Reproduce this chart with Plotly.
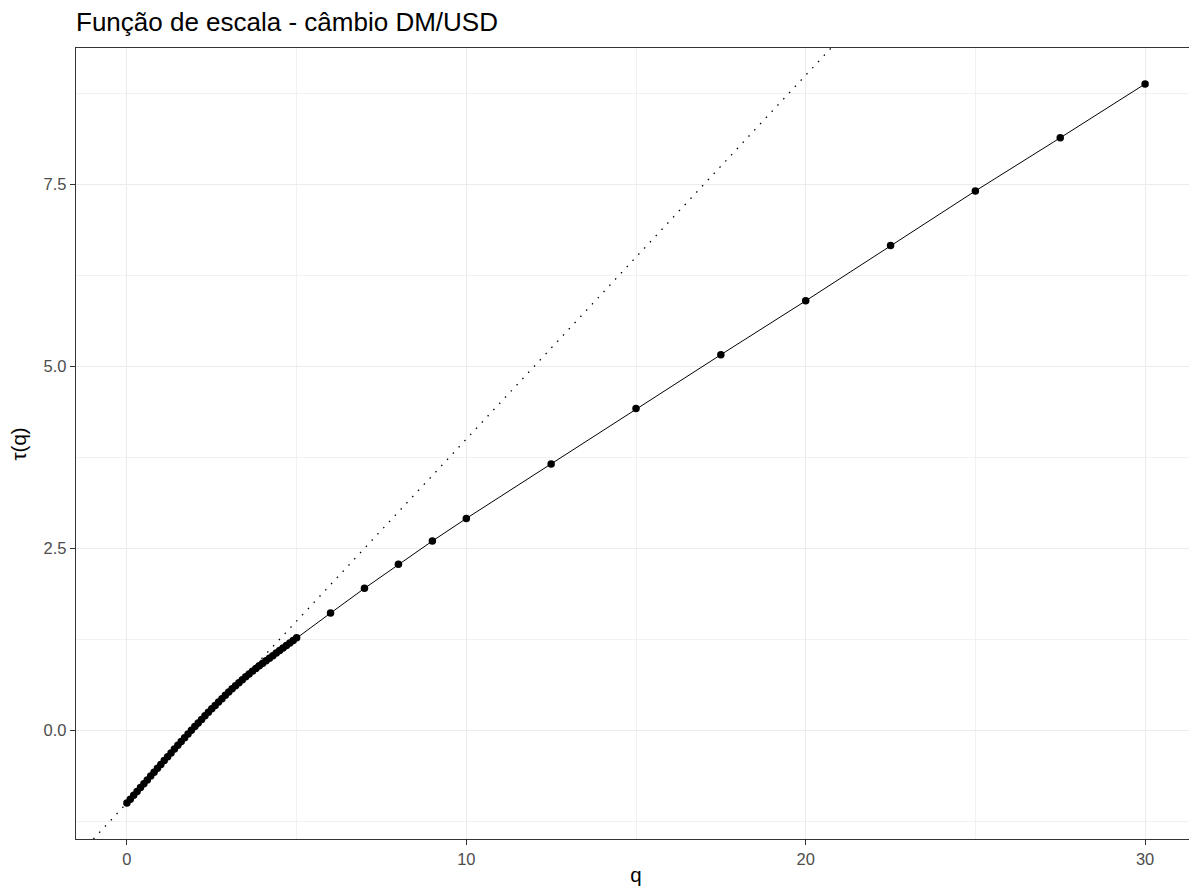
import plotly.graph_objects as go

# Data
q_values = [0.0, 0.1, 0.2, 0.3, 0.4, 0.5, 0.6, 0.7, 0.8, 0.9,
            1.0, 1.1, 1.2, 1.3, 1.4, 1.5, 1.6, 1.7, 1.8, 1.9,
            2.0, 2.1, 2.2, 2.3, 2.4, 2.5, 2.6, 2.7, 2.8, 2.9,
            3.0, 3.1, 3.2, 3.3, 3.4, 3.5, 3.6, 3.7, 3.8, 3.9,
            4.0, 4.1, 4.2, 4.3, 4.4, 4.5, 4.6, 4.7, 4.8, 4.9,
            5.0, 6, 7, 8, 9, 10, 12.5, 15, 17.5, 20, 22.5, 25, 27.5, 30]
tau_values = [-1.000, -0.947, -0.894, -0.841, -0.788, -0.735, -0.682, -0.629, -0.576, -0.523,
              -0.470, -0.417, -0.364, -0.311, -0.258, -0.206, -0.154, -0.102, -0.051, 0.000,
              0.050, 0.100, 0.149, 0.198, 0.246, 0.294, 0.341, 0.388, 0.434, 0.480,
              0.525, 0.569, 0.612, 0.654, 0.695, 0.735, 0.774, 0.812, 0.849, 0.885,
              0.920, 0.955, 0.990, 1.025, 1.060, 1.095, 1.130, 1.165, 1.200, 1.235,
              1.270, 1.61, 1.95, 2.28, 2.60, 2.91, 3.66, 4.42, 5.16, 5.90, 6.66, 7.41, 8.14, 8.88]

# reference line (monofractal): tau = slope*q + intercept
ref_intercept = -1.0
ref_slope = 0.5

x_ticks = [0, 10, 20, 30]
x_tick_labels = ["0", "10", "20", "30"]
y_ticks = [0, 2.5, 5.0, 7.5]
y_tick_labels = ["0.0", "2.5", "5.0", "7.5"]

title_text = "Função de escala - câmbio DM/USD"
x_title = "q"
y_title = "τ(q)"

# ggplot-like expansion (5%)
xmin, xmax = min(q_values), max(q_values)
ymin, ymax = min(tau_values), max(tau_values)
xpad = (xmax - xmin) * 0.05
ypad = (ymax - ymin) * 0.05
xr = [xmin - xpad, xmax + xpad]
yr = [ymin - ypad, ymax + ypad]

fig = go.Figure()

ref_x = [xr[0], xr[1]]
ref_y = [ref_intercept + ref_slope * v for v in ref_x]
fig.add_trace(go.Scatter(
    x=ref_x, y=ref_y, mode="lines",
    line=dict(color="black", width=1.3, dash="1.5px,7px"),
    hoverinfo="skip", showlegend=False))

fig.add_trace(go.Scatter(
    x=q_values, y=tau_values, mode="lines+markers",
    line=dict(color="black", width=1),
    marker=dict(color="black", size=7.5),
    showlegend=False))

font_family = "Liberation Sans, Arial, sans-serif"

axis_common = dict(
    showline=True, linecolor="#333333", linewidth=1.3, mirror=True,
    ticks="outside", ticklen=5, tickwidth=1.3, tickcolor="#333333",
    tickfont=dict(family=font_family, size=16.5, color="#4D4D4D"),
    showgrid=True, gridcolor="#EBEBEB", gridwidth=1.4,
    zeroline=False,
)

fig.update_xaxes(
    range=xr, tickvals=x_ticks, ticktext=x_tick_labels,
    minor=dict(dtick=5, tick0=0, showgrid=True, gridcolor="#F1F1F1", gridwidth=0.8, ticks=""),
    title=dict(text=x_title, font=dict(family=font_family, size=20.5, color="black"), standoff=0),
    **axis_common)
fig.update_yaxes(
    range=yr, tickvals=y_ticks, ticktext=y_tick_labels,
    minor=dict(dtick=1.25, tick0=0, showgrid=True, gridcolor="#F1F1F1", gridwidth=0.8, ticks=""),
    **axis_common)

# the page adds an 8px body margin; the figure is sized/offset to compensate
W, H = 1189, 883
ml, mr, mt, mb = 68, 1, 40, 52
fig.update_layout(
    width=W, height=H,
    paper_bgcolor="white", plot_bgcolor="white",
    margin=dict(l=ml, r=mr, t=mt, b=mb, pad=0),
    title=dict(text=title_text, x=ml / W, xanchor="left", xref="container",
               y=1 - 14 / H, yanchor="middle", yref="container",
               font=dict(family=font_family, size=26, color="black")),
    annotations=[dict(
        text=y_title, textangle=-90, showarrow=False,
        xref="paper", yref="paper", x=(10 - ml) / (W - ml - mr), y=0.5,
        xanchor="center", yanchor="middle",
        font=dict(family=font_family, size=20.5, color="black"))],
)

fig.write_html("out.html")
